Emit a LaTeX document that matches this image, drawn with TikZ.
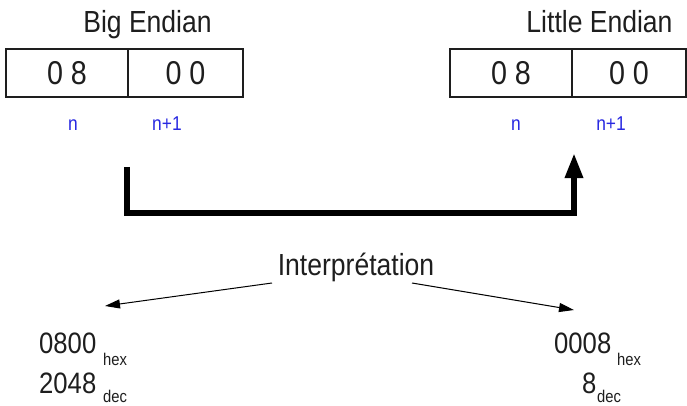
\documentclass[tikz,border=0pt]{standalone}
\usepackage{fontspec}
\usetikzlibrary{arrows.meta}
\newfontfamily\nf[FakeStretch=0.87]{Liberation Sans}
\definecolor{lblblue}{RGB}{40,40,225}
\definecolor{txt}{RGB}{30,30,30}
\tikzset{
  cell/.style={draw=txt, line width=1.3pt, minimum height=48pt, inner sep=0pt, font=\nf\fontsize{33}{33}\selectfont, text=txt},
  title/.style={font=\nf\fontsize{30.5}{30.5}\selectfont, text=txt, inner sep=0pt, anchor=base},
  addr/.style={font=\nf\fontsize{20}{20}\selectfont, text=lblblue, inner sep=0pt, anchor=base},
  big/.style={font=\nf\fontsize{29.5}{29.5}\selectfont, text=txt, inner sep=0pt, anchor=base west},
  sub/.style={font=\nf\fontsize{17}{17}\selectfont, text=txt, inner sep=0pt, anchor=base west},
  thick conn/.style={line width=6pt, line join=miter, -{Triangle[length=25pt,width=17pt]}},
  thin conn/.style={line width=1pt, -{Triangle[length=15pt,width=9pt]}}
}
\begin{document}
\begin{tikzpicture}[x=1pt,y=-1pt]
\useasboundingbox (0,0) rectangle (687,406);
% titles
\node[title] (bigt) at (147.5,33) {Big Endian};
\node[title] (litt) at (599.5,33) {Little Endian};
% cells
\node[cell, minimum width=122pt] (b1) at (67,73) {0 8};
\node[cell, minimum width=115pt] (b2) at (185.5,73) {0 0};
\node[cell, minimum width=122pt] (l1) at (511,73) {0 8};
\node[cell, minimum width=114pt] (l2) at (629,73) {0 0};
% addresses
\node[addr] (bn) at (73,131) {n};
\node[addr] (bn1) at (167,131) {n+1};
\node[addr] (ln) at (516,131) {n};
\node[addr] (ln1) at (611,131) {n+1};
% thick connector
\coordinate (cs) at (127,167);
\coordinate (ce) at (574,153);
\draw[thick conn] (cs) -- (127,213) -| (ce);
% interpretation
\node[title] (interp) at (356,275) {Interprétation};
\coordinate (ial) at (272,283);
\coordinate (iar) at (412,283);
\coordinate (tl) at (105,306);
\coordinate (tr) at (574,310);
\draw[thin conn] (ial) -- (tl);
\draw[thin conn] (iar) -- (tr);
% values
\node[big] (v1) at (39,353) {0800};
\node[sub] (v1s) at (103,365) {hex};
\node[big] (v2) at (39,393) {2048};
\node[sub] (v2s) at (103,402) {dec};
\node[big] (w1) at (554,353) {0008};
\node[sub] (w1s) at (617,365) {hex};
\node[big] (w2) at (582,393) {8};
\node[sub] (w2s) at (597,402) {dec};
\end{tikzpicture}
\end{document}
